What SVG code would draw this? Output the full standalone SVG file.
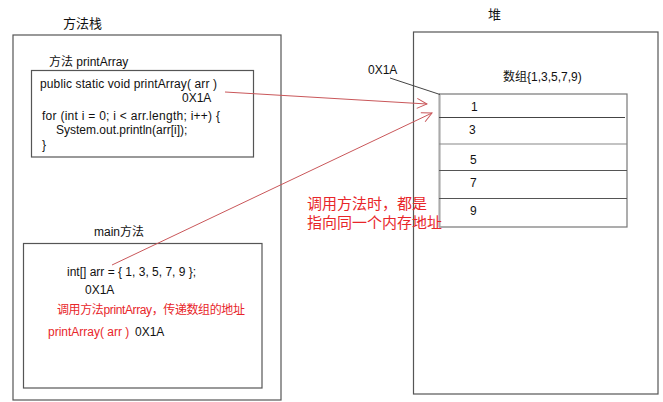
<svg xmlns="http://www.w3.org/2000/svg" width="663" height="402" viewBox="0 0 663 402">
<style>
text{font-family:"Liberation Sans","Noto Sans CJK SC",sans-serif;font-size:12px;fill:#111}
.red{fill:#e8262a}
.big{font-size:15px}
.box{fill:none;stroke:#555;stroke-width:1.2}
.conn{fill:none;stroke:#c9575a;stroke-width:1}
</style>
<defs>
<marker id="open" viewBox="0 0 12 12" refX="11" refY="6" markerWidth="12" markerHeight="12" markerUnits="userSpaceOnUse" orient="auto">
<path d="M1,1 L11,6 L1,11" fill="none" stroke="#c9575a" stroke-width="1"/>
</marker>
</defs>
<rect width="663" height="402" fill="#fff"/>
<g id="stack">
<rect class="box" x="13" y="35" width="268" height="365"/>
<text x="63" y="28" style="font-size:13px">方法栈</text>
</g>
<g id="printArray">
<text x="49" y="66">方法 printArray</text>
<rect class="box" x="31.5" y="70.5" width="222" height="86.5"/>
<text x="40" y="88" textLength="177">public static void printArray( arr )</text>
<text x="182" y="102">0X1A</text>
<text x="42" y="120" textLength="178">for (int i = 0; i &lt; arr.length; i++) {</text>
<text x="56" y="134">System.out.println(arr[i]);</text>
<text x="42" y="149">}</text>
</g>
<g id="main">
<text x="94" y="236">main方法</text>
<rect class="box" x="23.5" y="243.5" width="238.5" height="144.5"/>
<text x="67" y="276">int[] arr = { 1, 3, 5, 7, 9 };</text>
<text x="85" y="294">0X1A</text>
<text class="red" x="57" y="314" textLength="188">调用方法printArray，传递数组的地址</text>
<text class="red" x="48" y="336">printArray( arr )</text>
<text x="135" y="336">0X1A</text>
</g>
<g id="heap">
<text x="488" y="19" style="font-size:13px">堆</text>
<rect class="box" x="413.5" y="32" width="244.5" height="362"/>
<text x="368" y="74">0X1A</text>
<text x="503" y="81">数组{1,3,5,7,9)</text>
</g>
<g id="array">
<rect x="439.5" y="94" width="187.5" height="133" fill="none" stroke="#777" stroke-width="1.2"/>
<line x1="439.5" y1="94" x2="439.5" y2="227" stroke="#aaa" stroke-width="2"/>
<line x1="439" y1="117.5" x2="625" y2="117.5" stroke="#444"/>
<line x1="439" y1="144" x2="627" y2="144" stroke="#888" stroke-width="1.2"/>
<line x1="439" y1="170.5" x2="627" y2="170.5" stroke="#555"/>
<line x1="439" y1="198.5" x2="627" y2="198.5" stroke="#555"/>
<text x="471" y="111">1</text>
<text x="469" y="134">3</text>
<text x="470" y="164">5</text>
<text x="470" y="187">7</text>
<text x="470" y="215">9</text>
</g>
<g id="connectors">
<line x1="390" y1="78" x2="440" y2="94.5" stroke="#444" stroke-width="1"/>
<line class="conn" x1="225" y1="92" x2="427" y2="104" marker-end="url(#open)"/>
<line class="conn" x1="112" y1="265" x2="432" y2="113" marker-end="url(#open)"/>
</g>
<g id="note">
<text class="red big" x="307" y="209">调用方法时，都是</text>
<text class="red big" x="307" y="228">指向同一个内存地址</text>
</g>
</svg>
